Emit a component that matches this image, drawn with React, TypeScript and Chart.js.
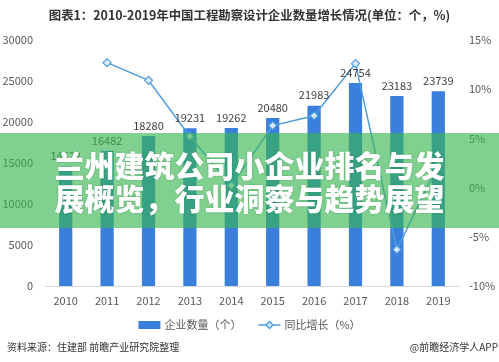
import React, { useEffect, useRef } from "react";
import { Chart, registerables } from "chart.js";

Chart.register(...registerables);

const FONT = '"Noto Sans CJK SC", "Noto Sans", sans-serif';

const years = ["2010", "2011", "2012", "2013", "2014", "2015", "2016", "2017", "2018", "2019"];
const companyCounts = [14622, 16482, 18280, 19231, 19262, 20480, 21983, 24754, 23183, 23739];
const growthRates = [null, 12.7, 10.9, 5.2, 0.2, 6.3, 7.3, 12.6, -6.3, 2.4];
const countTicks = { min: 0, max: 30000, step: 5000 };
const rateTicks = { min: -10, max: 15, step: 5 };

const titleText = "图表1：2010-2019年中国工程勘察设计企业数量增长情况(单位：个，%)";
const legendLabels = ["企业数量（个）", "同比增长（%）"];
const sourceText = "资料来源：住建部 前瞻产业研究院整理";
const creditText = "@前瞻经济学人APP";
const bannerLines = ["兰州建筑公司小企业排名与发", "展概览，行业洞察与趋势展望"];

const BAR_COLOR = "#3b7fdd";
const LINE_COLOR = "#4d9de0";

const decorPlugin = {
  id: "decor",
  afterDatasetsDraw(chart: any) {
    const ctx = chart.ctx;
    const meta = chart.getDatasetMeta(0);
    ctx.save();
    ctx.font = `11px ${FONT}`;
    ctx.fillStyle = "#404040";
    ctx.textAlign = "center";
    ctx.textBaseline = "bottom";
    meta.data.forEach((el: any, i: number) => {
      ctx.fillText(String(companyCounts[i]), el.x, el.y - 5);
    });
    ctx.restore();
  },
  afterDraw(chart: any) {
    const ctx = chart.ctx;
    const w = chart.width;
    ctx.save();
    // title
    ctx.font = `bold 12.4px ${FONT}`;
    ctx.fillStyle = "#333333";
    ctx.textAlign = "center";
    ctx.textBaseline = "middle";
    ctx.fillText(titleText, w / 2, 15);

    // legend
    ctx.font = `11px ${FONT}`;
    const t1 = ctx.measureText(legendLabels[0]).width;
    const t2 = ctx.measureText(legendLabels[1]).width;
    const box = 22;
    const gap = 4;
    const sep = 17;
    const total = box + gap + t1 + sep + box + gap + t2;
    let x = w / 2 - total / 2;
    const y = 325;
    ctx.fillStyle = BAR_COLOR;
    ctx.fillRect(x, y - 4, box, 8);
    x += box + gap;
    ctx.fillStyle = "#595959";
    ctx.textAlign = "left";
    ctx.fillText(legendLabels[0], x, y);
    x += t1 + sep;
    ctx.strokeStyle = LINE_COLOR;
    ctx.lineWidth = 1.5;
    ctx.beginPath();
    ctx.moveTo(x, y);
    ctx.lineTo(x + box, y);
    ctx.stroke();
    const cx = x + box / 2;
    ctx.fillStyle = "#dcebf8";
    ctx.beginPath();
    ctx.moveTo(cx, y - 3.5);
    ctx.lineTo(cx + 3.5, y);
    ctx.lineTo(cx, y + 3.5);
    ctx.lineTo(cx - 3.5, y);
    ctx.closePath();
    ctx.fill();
    ctx.stroke();
    x += box + gap;
    ctx.fillStyle = "#595959";
    ctx.fillText(legendLabels[1], x, y);
    ctx.restore();
  },
};

export default function App() {
  const canvasRef = useRef<HTMLCanvasElement>(null);

  useEffect(() => {
    const canvas = canvasRef.current;
    if (!canvas) return;
    const chart = new Chart(canvas, {
      type: "bar",
      data: {
        labels: years,
        datasets: [
          {
            type: "bar",
            label: legendLabels[0],
            data: companyCounts,
            backgroundColor: BAR_COLOR,
            barPercentage: 0.32,
            categoryPercentage: 1,
            yAxisID: "y",
            order: 1,
          },
          {
            type: "line",
            label: legendLabels[1],
            data: growthRates as any,
            borderColor: LINE_COLOR,
            borderWidth: 1.5,
            pointStyle: "rectRot",
            pointRadius: 4,
            pointBackgroundColor: "#dcebf8",
            pointBorderColor: LINE_COLOR,
            pointBorderWidth: 1.2,
            tension: 0,
            spanGaps: false,
            yAxisID: "y1",
            order: 0,
          },
        ],
      },
      options: {
        responsive: false,
        animation: false,
        layout: { padding: { top: 40, bottom: 46, left: 0, right: 0 } },
        plugins: {
          legend: { display: false },
          title: { display: false },
          tooltip: { enabled: false },
        },
        scales: {
          x: {
            grid: { display: false, drawTicks: false },
            border: { display: true, color: "#d9d9d9", width: 1 },
            ticks: { color: "#595959", font: { size: 11, family: FONT }, padding: 8 },
            afterFit: (s: any) => {
              s.height = 30;
            },
          },
          y: {
            position: "left",
            min: countTicks.min,
            max: countTicks.max,
            grid: { display: false, drawTicks: false },
            border: { display: false },
            ticks: {
              stepSize: countTicks.step,
              color: "#595959",
              font: { size: 11, family: FONT },
              padding: 12,
              callback: (v: any) => String(v),
            },
            afterFit: (s: any) => {
              s.width = 45;
            },
          },
          y1: {
            position: "right",
            min: rateTicks.min,
            max: rateTicks.max,
            grid: { display: false, drawTicks: false },
            border: { display: false },
            ticks: {
              stepSize: rateTicks.step,
              color: "#595959",
              font: { size: 11, family: FONT },
              padding: 10,
              callback: (v: any) => `${v}%`,
            },
            afterFit: (s: any) => {
              s.width = 40;
            },
          },
        },
      } as any,
      plugins: [decorPlugin],
    });
    return () => chart.destroy();
  }, []);

  return (
    <div
      style={{
        position: "fixed",
        left: 0,
        top: 0,
        width: 499,
        height: 362,
        background: "#ffffff",
        overflow: "hidden",
        fontFamily: FONT,
      }}
    >
      <canvas ref={canvasRef} width={499} height={362} style={{ display: "block" }} />
      <div
        style={{
          position: "absolute",
          left: 0,
          top: 133,
          width: 499,
          height: 95,
          background: "rgba(57,182,82,0.64)",
          display: "flex",
          flexDirection: "column",
          alignItems: "center",
          justifyContent: "center",
        }}
      >
        {bannerLines.map((line) => (
          <div
            key={line}
            style={{
              color: "#ffffff",
              fontWeight: 900,
              fontSize: 30,
              lineHeight: "33px",
              whiteSpace: "nowrap",
              textShadow: "0 0 2px rgba(0,80,30,0.35)",
            }}
          >
            {line}
          </div>
        ))}
      </div>
      <div
        style={{
          position: "absolute",
          left: 7,
          top: 340,
          fontSize: 10,
          lineHeight: "14px",
          color: "#333333",
          whiteSpace: "nowrap",
        }}
      >
        {sourceText}
      </div>
      <div
        style={{
          position: "absolute",
          right: 1,
          top: 340,
          fontSize: 10,
          lineHeight: "14px",
          color: "#333333",
          whiteSpace: "nowrap",
        }}
      >
        {creditText}
      </div>
    </div>
  );
}
